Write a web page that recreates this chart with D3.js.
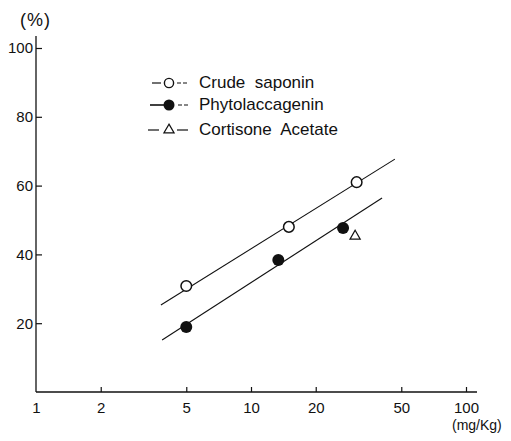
<!DOCTYPE html>
<html>
<head>
<meta charset="utf-8">
<script src="https://cdn.jsdelivr.net/npm/d3@7"></script>
<style>
  html, body { margin: 0; padding: 0; background: #fff; }
  svg { display: block; }
  text { font-family: "Liberation Sans", Arial, sans-serif; fill: #111; }
</style>
</head>
<body>
<svg id="chart" width="511" height="441"></svg>
<script>
// ---- data ----
const xTicks = [1, 2, 5, 10, 20, 50, 100];
const yTicks = [20, 40, 60, 80, 100];

const crudeDose = [5, 15, 31];
const crudeResp = [30.8, 48.0, 61.0];

const phytoDose = [5, 13.4, 26.8];
const phytoResp = [18.9, 38.4, 47.7];

const cortDose = [30.5];
const cortResp = [45.3];

// fitted regression lines (end points)
const crudeFitDose = [3.81, 46.7];
const crudeFitResp = [25.3, 67.7];
const phytoFitDose = [3.86, 40.7];
const phytoFitResp = [15.1, 56.4];

const legendLabels = ["Crude  saponin", "Phytolaccagenin", "Cortisone  Acetate"];

// ---- drawing ----
const svg = d3.select("#chart");
const x = d3.scaleLog().domain([1, 100]).range([36, 466]);
const y = d3.scaleLinear().domain([0, 100]).range([392, 48]);

const axisColor = "#111";

// axis lines
svg.append("line").attr("x1", x(1)).attr("x2", 477)
  .attr("y1", y(0)).attr("y2", y(0))
  .attr("stroke", axisColor).attr("stroke-width", 1.3);
svg.append("line").attr("x1", x(1)).attr("x2", x(1))
  .attr("y1", 36).attr("y2", y(0))
  .attr("stroke", axisColor).attr("stroke-width", 1.3);

// x axis
const gx = svg.append("g").attr("transform", `translate(0,${y(0)})`)
  .call(d3.axisBottom(x).tickValues(xTicks).tickFormat(d3.format("d"))
    .tickSize(-5).tickPadding(10));
gx.select(".domain").remove();
gx.selectAll(".tick line").attr("stroke", axisColor).attr("stroke-width", 1.2);
gx.selectAll(".tick text").style("font-size", "15px")
  .style("font-family", "'Liberation Sans', Arial, sans-serif").attr("fill", "#111");
gx.selectAll(".tick").filter(d => d === 1).select("line").remove();

// y axis
const gy = svg.append("g").attr("transform", `translate(${x(1)},0)`)
  .call(d3.axisLeft(y).tickValues(yTicks).tickSize(-6).tickPadding(3));
gy.select(".domain").remove();
gy.selectAll(".tick line").attr("stroke", axisColor).attr("stroke-width", 1.2);
gy.selectAll(".tick text").style("font-size", "15px")
  .style("font-family", "'Liberation Sans', Arial, sans-serif").attr("fill", "#111");

// axis titles
svg.append("text").attr("x", 20).attr("y", 26)
  .style("font-size", "18px").style("letter-spacing", "1px").text("(%)");
svg.append("text").attr("x", 452).attr("y", 430)
  .style("font-size", "14px").text("(mg/Kg)");

// regression lines
const fits = [
  { dose: crudeFitDose, resp: crudeFitResp },
  { dose: phytoFitDose, resp: phytoFitResp }
];
fits.forEach(f => {
  svg.append("line")
    .attr("x1", x(f.dose[0])).attr("y1", y(f.resp[0]))
    .attr("x2", x(f.dose[1])).attr("y2", y(f.resp[1]))
    .attr("stroke", "#111").attr("stroke-width", 1.1);
});

// points
const crude = crudeDose.map((d, i) => ({ d, r: crudeResp[i] }));
const phyto = phytoDose.map((d, i) => ({ d, r: phytoResp[i] }));
const cort = cortDose.map((d, i) => ({ d, r: cortResp[i] }));

svg.selectAll(".crude").data(crude).enter().append("circle")
  .attr("cx", p => x(p.d)).attr("cy", p => y(p.r)).attr("r", 5.3)
  .attr("fill", "#fff").attr("stroke", "#111").attr("stroke-width", 1.5);

svg.selectAll(".phyto").data(phyto).enter().append("circle")
  .attr("cx", p => x(p.d)).attr("cy", p => y(p.r)).attr("r", 6)
  .attr("fill", "#111");

const tri = d3.symbol().type(d3.symbolTriangle).size(45);
svg.selectAll(".cort").data(cort).enter().append("path")
  .attr("d", tri)
  .attr("transform", p => `translate(${x(p.d)},${y(p.r)})`)
  .attr("fill", "#fff").attr("stroke", "#111").attr("stroke-width", 1.2);

// legend
const legY = [83, 105, 130];
const legTextY = [88, 110, 135];
// row 1
svg.append("line").attr("x1", 152).attr("x2", 161).attr("y1", legY[0]).attr("y2", legY[0])
  .attr("stroke", "#111").attr("stroke-width", 1.2);
svg.append("circle").attr("cx", 169).attr("cy", legY[0]).attr("r", 4.6)
  .attr("fill", "#fff").attr("stroke", "#111").attr("stroke-width", 1.4);
svg.append("line").attr("x1", 177).attr("x2", 188).attr("y1", legY[0]).attr("y2", legY[0])
  .attr("stroke", "#111").attr("stroke-width", 1.2).attr("stroke-dasharray", "4,2");
// row 2
svg.append("line").attr("x1", 150).attr("x2", 164).attr("y1", legY[1]).attr("y2", legY[1])
  .attr("stroke", "#111").attr("stroke-width", 1.6);
svg.append("circle").attr("cx", 169).attr("cy", legY[1]).attr("r", 5.5)
  .attr("fill", "#111");
svg.append("line").attr("x1", 178).attr("x2", 188).attr("y1", legY[1]).attr("y2", legY[1])
  .attr("stroke", "#111").attr("stroke-width", 1.2).attr("stroke-dasharray", "4,2");
// row 3
svg.append("line").attr("x1", 148).attr("x2", 159).attr("y1", legY[2]).attr("y2", legY[2])
  .attr("stroke", "#111").attr("stroke-width", 1.2);
svg.append("path").attr("d", tri)
  .attr("transform", `translate(169,${legY[2]})`)
  .attr("fill", "#fff").attr("stroke", "#111").attr("stroke-width", 1.2);
svg.append("line").attr("x1", 177).attr("x2", 188).attr("y1", legY[2]).attr("y2", legY[2])
  .attr("stroke", "#111").attr("stroke-width", 1.2);

legendLabels.forEach((t, i) => {
  svg.append("text").attr("x", 199).attr("y", legTextY[i])
    .style("font-size", "17px").style("white-space", "pre")
    .attr("xml:space", "preserve").text(t);
});
</script>
</body>
</html>
